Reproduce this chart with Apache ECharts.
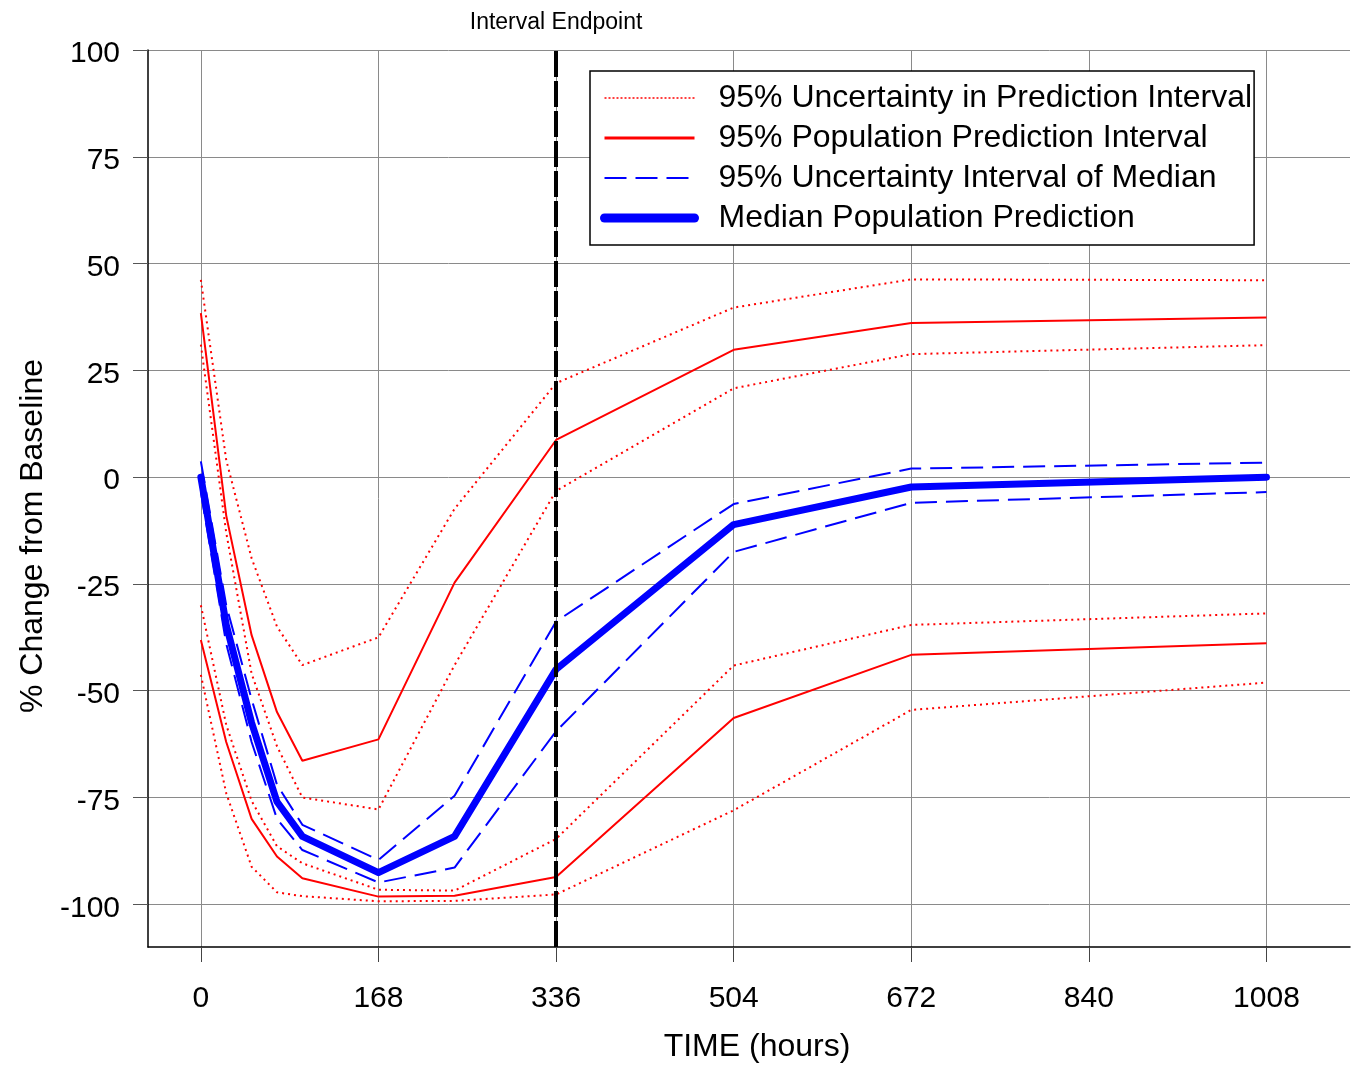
<!DOCTYPE html>
<html>
<head>
<meta charset="utf-8">
<script src="https://cdn.jsdelivr.net/npm/echarts@6/dist/echarts.min.js"></script>
<style>
  html, body { margin: 0; padding: 0; background: #fff; }
  #chart { width: 1351px; height: 1065px; }
</style>
</head>
<body>
<div id="chart"></div>
<script>
// sampling times (hours)
const hours = [0, 24, 48, 72, 96, 168, 240, 336, 504, 672, 1008]

// % change from baseline
const upperPIHigh = [46.2, 4, -19, -35, -44, -37.5, -7.4, 22, 39.7, 46.3, 46.1]
const upperPI     = [38.4, -9, -37, -55, -66.4, -61.4, -24.7, 8.7, 29.8, 36.1, 37.4]
const upperPILow  = [31, -13, -46, -63, -75, -77.8, -44, -3.2, 20.8, 28.8, 30.9]
const medianHigh  = [3.7, -30, -52, -72, -81.4, -89.6, -74.6, -33.8, -6.3, 2.0, 3.4]
const median      = [0, -34.6, -57.5, -76, -84.1, -92.6, -84.1, -45, -11.1, -2.3, 0]
const medianLow   = [-3.5, -39, -62, -80, -87.3, -94.9, -91.4, -59.5, -17.5, -6.0, -3.5]
const lowerPIHigh = [-30, -58, -75.8, -86.4, -90.4, -96.6, -96.8, -84.7, -44.1, -34.6, -31.9]
const lowerPI     = [-38.1, -62, -80, -88.8, -93.9, -98.2, -98, -93.6, -56.4, -41.6, -38.9]
const lowerPILow  = [-46.3, -74, -91.2, -97.2, -98.1, -99.3, -99.2, -97.7, -78, -54.5, -48.1]

const xTicks = [0, 168, 336, 504, 672, 840, 1008]
const yTicks = [-100, -75, -50, -25, 0, 25, 50, 75, 100]
const endpoint = 336

const NAME_UNC_PI = '95% Uncertainty in Prediction Interval'
const NAME_PI = '95% Population Prediction Interval'
const NAME_UNC_MED = '95% Uncertainty Interval of Median'
const NAME_MED = 'Median Population Prediction'

const FONT = '"Liberation Sans", Arial, sans-serif'

const pairs = (vals) => hours.map((h, i) => [h, vals[i]])

const lineSeries = (name, vals, style, z) => ({
  name,
  type: 'line',
  data: pairs(vals),
  symbol: 'none',
  silent: true,
  z,
  lineStyle: style,
  itemStyle: { color: style.color }
})

const dotted = { color: '#ff0000', width: 2, type: [2, 4] }
const solidRed = { color: '#ff0000', width: 2, type: 'solid' }
const dashed = { color: '#0000ff', width: 2, type: [22, 9] }
const thick = { color: '#0000ff', width: 7, type: 'solid', cap: 'round', join: 'round' }

const chart = echarts.init(document.getElementById('chart'))

const option = {
  animation: false,
  backgroundColor: '#ffffff',
  grid: { left: 148, right: 1, top: 50, bottom: 118 },
  legend: {
    data: [
      { name: NAME_UNC_PI, lineStyle: { width: 1.5, type: [2, 2] } },
      { name: NAME_PI, lineStyle: { width: 3 } },
      { name: NAME_UNC_MED, lineStyle: { width: 2, type: [22, 9] } },
      { name: NAME_MED, lineStyle: { width: 9, cap: 'round' } }
    ],
    orient: 'vertical',
    left: 590,
    top: 71,
    padding: [11, 2, 11, 10],
    itemWidth: 90,
    itemHeight: 14,
    itemGap: 8,
    selectedMode: false,
    backgroundColor: '#ffffff',
    borderColor: '#000000',
    borderWidth: 1.5,
    itemStyle: { opacity: 0 },
    textStyle: {
      fontFamily: FONT,
      fontSize: 32,
      color: '#000',
      lineHeight: 32,
      padding: [0, 0, 0, 19]
    }
  },
  xAxis: {
    type: 'value',
    min: -50,
    max: 1087,
    axisLine: { onZero: false, lineStyle: { color: '#000', width: 1.5 } },
    axisTick: { customValues: xTicks, length: 15, lineStyle: { color: '#444' } },
    axisLabel: {
      customValues: xTicks,
      formatter: (v) => String(v),
      margin: 37,
      fontFamily: FONT,
      fontSize: 30,
      color: '#000'
    },
    splitLine: { show: true, lineStyle: { color: '#8a8a8a', width: 1 } }
  },
  yAxis: {
    type: 'value',
    min: -110,
    max: 100,
    axisLine: { show: true, onZero: false, lineStyle: { color: '#000', width: 1.5 } },
    axisTick: { show: true, customValues: yTicks, length: 15, lineStyle: { color: '#555' } },
    axisLabel: {
      customValues: yTicks,
      formatter: (v) => String(v),
      margin: 28,
      verticalAlign: 'top',
      lineHeight: 8,
      fontFamily: FONT,
      fontSize: 30,
      color: '#000'
    },
    splitLine: { show: true, lineStyle: { color: '#8a8a8a', width: 1 } }
  },
  graphic: [
    {
      type: 'text',
      x: 33,
      y: 536,
      rotation: Math.PI / 2,
      style: {
        text: '% Change from Baseline',
        font: '32px ' + FONT,
        fill: '#000',
        align: 'center',
        verticalAlign: 'middle'
      }
    },
    {
      type: 'text',
      x: 757,
      y: 1047,
      style: {
        text: 'TIME (hours)',
        font: '32px ' + FONT,
        fill: '#000',
        align: 'center',
        verticalAlign: 'middle'
      }
    }
  ],
  series: [
    lineSeries(NAME_UNC_PI, upperPIHigh, dotted, 2),
    lineSeries(NAME_UNC_PI, upperPILow, dotted, 2),
    lineSeries(NAME_UNC_PI, lowerPIHigh, dotted, 2),
    lineSeries(NAME_UNC_PI, lowerPILow, dotted, 2),
    lineSeries(NAME_PI, upperPI, solidRed, 3),
    lineSeries(NAME_PI, lowerPI, solidRed, 3),
    lineSeries(NAME_UNC_MED, medianHigh, dashed, 4),
    lineSeries(NAME_UNC_MED, medianLow, dashed, 4),
    Object.assign(lineSeries(NAME_MED, median, thick, 5), {
      markLine: {
        silent: true,
        symbol: 'none',
        z: 10,
        lineStyle: { color: '#000', width: 4, type: [26, 4] },
        label: {
          show: true,
          position: 'end',
          distance: 16,
          formatter: 'Interval Endpoint',
          fontFamily: FONT,
          fontSize: 23,
          color: '#000'
        },
        data: [{ xAxis: endpoint }]
      }
    })
  ]
}

chart.setOption(option)

window.addEventListener('resize', () => {
  chart && chart.resize()
})
</script>
</body>
</html>
